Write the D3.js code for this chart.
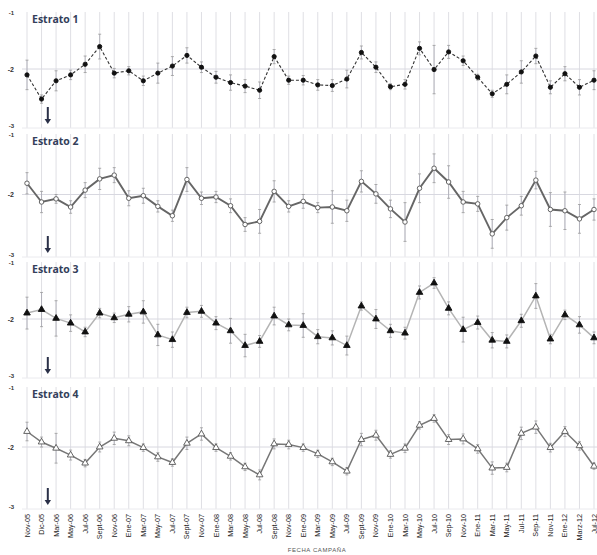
<!DOCTYPE html>
<html>
<head>
<meta charset="utf-8">
<script src="https://cdn.jsdelivr.net/npm/d3@7/dist/d3.min.js"></script>
<style>
  html, body { margin: 0; padding: 0; background: #fff; }
  svg { display: block; }
</style>
</head>
<body>
<svg id="chart" width="597" height="555"></svg>
<script>
// Survey dates (x categories)
const fechas = ["Nov-05","Dic-05","Mar-06","May-06","Jul-06","Sept-06","Nov-06","Ene-07","Mar-07","May-07",
  "Jul-07","Sept-07","Nov-07","Ene-08","Mar-08","May-08","Jul-08","Sept-08","Nov-08","Ene-09",
  "Mar-09","May-09","Jul-09","Sept-09","Nov-09","Ene-10","Mar-10","May-10","Jul-10","Sep-10",
  "Nov-10","Ene-11","Mar-11","May-11","Jul-11","Sep-11","Nov-11","Ene-12","Marz-12","Jul-12"];

const estratos = ["Estrato 1", "Estrato 2", "Estrato 3", "Estrato 4"];
const yTicks = [-1, -2, -3];
const arrowDate = 1.5; // index between Dic-05 and Mar-06

// Mean values per stratum
const estrato1 = [-2.10,-2.51,-2.20,-2.10,-1.92,-1.62,-2.07,-2.03,-2.20,-2.07,
  -1.95,-1.77,-1.97,-2.14,-2.23,-2.29,-2.36,-1.79,-2.19,-2.19,
  -2.27,-2.28,-2.17,-1.72,-1.97,-2.30,-2.26,-1.65,-2.01,-1.71,
  -1.86,-2.14,-2.42,-2.26,-2.05,-1.78,-2.31,-2.08,-2.31,-2.19];
const estrato2 = [-1.82,-2.12,-2.07,-2.20,-1.93,-1.75,-1.69,-2.06,-2.02,-2.19,
  -2.34,-1.76,-2.06,-2.04,-2.18,-2.48,-2.43,-1.95,-2.19,-2.11,
  -2.21,-2.20,-2.26,-1.79,-1.99,-2.23,-2.44,-1.90,-1.58,-1.80,
  -2.12,-2.15,-2.63,-2.37,-2.18,-1.77,-2.24,-2.26,-2.39,-2.24];
const estrato3 = [-1.90,-1.84,-1.99,-2.07,-2.22,-1.90,-1.98,-1.92,-1.88,-2.27,
  -2.35,-1.89,-1.87,-2.07,-2.20,-2.45,-2.38,-1.95,-2.10,-2.11,
  -2.30,-2.32,-2.45,-1.78,-2.00,-2.20,-2.24,-1.55,-1.39,-1.82,
  -2.18,-2.06,-2.36,-2.38,-2.03,-1.61,-2.34,-1.93,-2.10,-2.32];
const estrato4 = [-1.75,-1.92,-2.02,-2.13,-2.26,-2.00,-1.86,-1.90,-2.01,-2.16,
  -2.25,-1.94,-1.79,-2.01,-2.15,-2.32,-2.45,-1.95,-1.96,-2.01,
  -2.11,-2.24,-2.39,-1.88,-1.81,-2.12,-2.02,-1.65,-1.54,-1.88,
  -1.87,-2.03,-2.34,-2.33,-1.78,-1.68,-2.01,-1.75,-1.98,-2.31];

// Error bar half-widths per stratum
const error1 = [0.25,0.07,0.17,0.08,0.14,0.21,0.08,0.07,0.08,0.17,
  0.16,0.13,0.09,0.10,0.13,0.11,0.14,0.12,0.07,0.08,
  0.09,0.10,0.15,0.11,0.09,0.05,0.08,0.11,0.41,0.11,
  0.08,0.05,0.06,0.16,0.19,0.13,0.11,0.12,0.13,0.16];
const error2 = [0.17,0.17,0.07,0.10,0.12,0.17,0.12,0.12,0.12,0.09,
  0.09,0.19,0.10,0.09,0.11,0.11,0.19,0.17,0.09,0.11,
  0.08,0.26,0.17,0.17,0.15,0.14,0.31,0.23,0.23,0.26,
  0.17,0.12,0.23,0.20,0.15,0.14,0.27,0.30,0.23,0.17];
const error3 = [0.27,0.29,0.30,0.14,0.08,0.08,0.08,0.13,0.19,0.18,
  0.13,0.09,0.10,0.11,0.21,0.19,0.10,0.15,0.10,0.20,
  0.12,0.12,0.16,0.07,0.16,0.11,0.10,0.11,0.09,0.11,
  0.21,0.11,0.13,0.11,0.11,0.21,0.08,0.08,0.14,0.10];
const error4 = [0.15,0.08,0.24,0.08,0.06,0.08,0.10,0.08,0.06,0.07,
  0.06,0.10,0.10,0.06,0.06,0.06,0.08,0.08,0.07,0.06,
  0.06,0.06,0.06,0.10,0.08,0.06,0.07,0.06,0.06,0.08,
  0.08,0.07,0.10,0.07,0.10,0.10,0.07,0.08,0.07,0.05];

const valores = [estrato1, estrato2, estrato3, estrato4];
const errores = [error1, error2, error3, error4];

// Panel geometry and per-stratum styling
const panelTops = [10, 132, 260, 385];
const panelBottoms = [128, 257, 378, 509];
const styles = [
  { line: "#333", width: 1.1, dash: "3,2", symbol: d3.symbolCircle, size: 14, fill: "#111", stroke: "#111" },
  { line: "#666", width: 1.9, dash: null, symbol: d3.symbolCircle, size: 16, fill: "#fff", stroke: "#555" },
  { line: "#b4b4b4", width: 1.5, dash: null, symbol: d3.symbolTriangle, size: 19, fill: "#111", stroke: "#111" },
  { line: "#777", width: 1.5, dash: null, symbol: d3.symbolTriangle, size: 19, fill: "#fff", stroke: "#555" }
];

const svg = d3.select("#chart");
const x = d3.scalePoint().domain(fechas).range([27, 594]);
const xIdx = d3.scaleLinear().domain([0, fechas.length - 1]).range([27, 594]);

estratos.forEach((name, p) => {
  const y = d3.scaleLinear().domain([-1, -3]).range([panelTops[p], panelBottoms[p]]);
  const g = svg.append("g");
  const st = styles[p];
  const data = fechas.map((f, i) => ({ f, v: valores[p][i], e: errores[p][i] }));

  // vertical grid lines
  g.selectAll("line.vg").data(fechas).join("line")
    .attr("x1", d => x(d)).attr("x2", d => x(d))
    .attr("y1", y(-1) + 2).attr("y2", y(-3))
    .attr("stroke", "#dfdfe4").attr("stroke-width", 1);

  // horizontal reference at -2 and baseline
  g.append("line").attr("x1", 22).attr("x2", 597)
    .attr("y1", y(-2)).attr("y2", y(-2))
    .attr("stroke", "#d8d8e0").attr("stroke-width", 1);
  g.append("line").attr("x1", 22).attr("x2", 597)
    .attr("y1", y(-3)).attr("y2", y(-3))
    .attr("stroke", "#eaeaee").attr("stroke-width", 1);

  // y tick labels (end labels nudged inward so adjacent panels don't collide)
  const nudge = { "-1": 4.5, "-2": 2.5, "-3": -0.5 };
  g.selectAll("text.yt").data(yTicks).join("text")
    .attr("x", 14).attr("y", d => y(d) + nudge[d])
    .attr("text-anchor", "end")
    .attr("font-family", "Liberation Sans, Arial, sans-serif")
    .attr("font-size", d => d === -2 ? 7 : 6)
    .attr("font-weight", "bold").attr("fill", "#333")
    .text(d => d);

  // error bars
  const eb = g.selectAll("g.eb").data(data).join("g").attr("class", "eb");
  eb.append("line")
    .attr("x1", d => x(d.f)).attr("x2", d => x(d.f))
    .attr("y1", d => y(d.v + d.e)).attr("y2", d => y(d.v - d.e))
    .attr("stroke", "#a4a4ae").attr("stroke-width", 0.8);
  [1, -1].forEach(s => {
    eb.append("line")
      .attr("x1", d => x(d.f) - 1.5).attr("x2", d => x(d.f) + 1.5)
      .attr("y1", d => y(d.v + s * d.e)).attr("y2", d => y(d.v + s * d.e))
      .attr("stroke", "#999").attr("stroke-width", 0.8);
  });

  // series line
  const line = d3.line().x(d => x(d.f)).y(d => y(d.v));
  g.append("path").datum(data)
    .attr("d", line).attr("fill", "none")
    .attr("stroke", st.line).attr("stroke-width", st.width)
    .attr("stroke-dasharray", st.dash);

  // markers
  g.selectAll("path.mk").data(data).join("path")
    .attr("transform", d => `translate(${x(d.f)},${y(d.v)})`)
    .attr("d", d3.symbol().type(st.symbol).size(st.size))
    .attr("fill", st.fill).attr("stroke", st.stroke).attr("stroke-width", 0.9);

  // stratum label
  g.append("text")
    .attr("x", 32).attr("y", panelTops[p] + 13)
    .attr("font-family", "Open Sans, Liberation Sans, sans-serif")
    .attr("font-size", 10.5).attr("font-weight", "bold").attr("fill", "#34405a")
    .text(name);

  // arrow marking the start of the intervention
  const ax = xIdx(arrowDate) - 1;
  const ay1 = y(-3) - 21, ay2 = y(-3) - 4;
  g.append("line").attr("x1", ax).attr("x2", ax)
    .attr("y1", ay1).attr("y2", ay2 - 4)
    .attr("stroke", "#2a3048").attr("stroke-width", 2);
  g.append("path")
    .attr("d", `M${ax - 3.2},${ay2 - 5} L${ax + 3.2},${ay2 - 5} L${ax},${ay2} Z`)
    .attr("fill", "#2a3048");
});

// x-axis date labels
svg.append("g").selectAll("text").data(fechas).join("text")
  .attr("transform", d => `translate(${x(d) + 2.5},514) rotate(-90)`)
  .attr("text-anchor", "end")
  .attr("font-family", "Liberation Sans, Arial, sans-serif")
  .attr("font-size", 7.2).attr("fill", "#222")
  .text(d => d);

svg.append("text")
  .attr("x", 317).attr("y", 552)
  .attr("text-anchor", "middle")
  .attr("font-family", "Liberation Sans, Arial, sans-serif")
  .attr("font-size", 6).attr("letter-spacing", 0.6).attr("fill", "#555")
  .text("FECHA CAMPAÑA");
</script>
</body>
</html>
